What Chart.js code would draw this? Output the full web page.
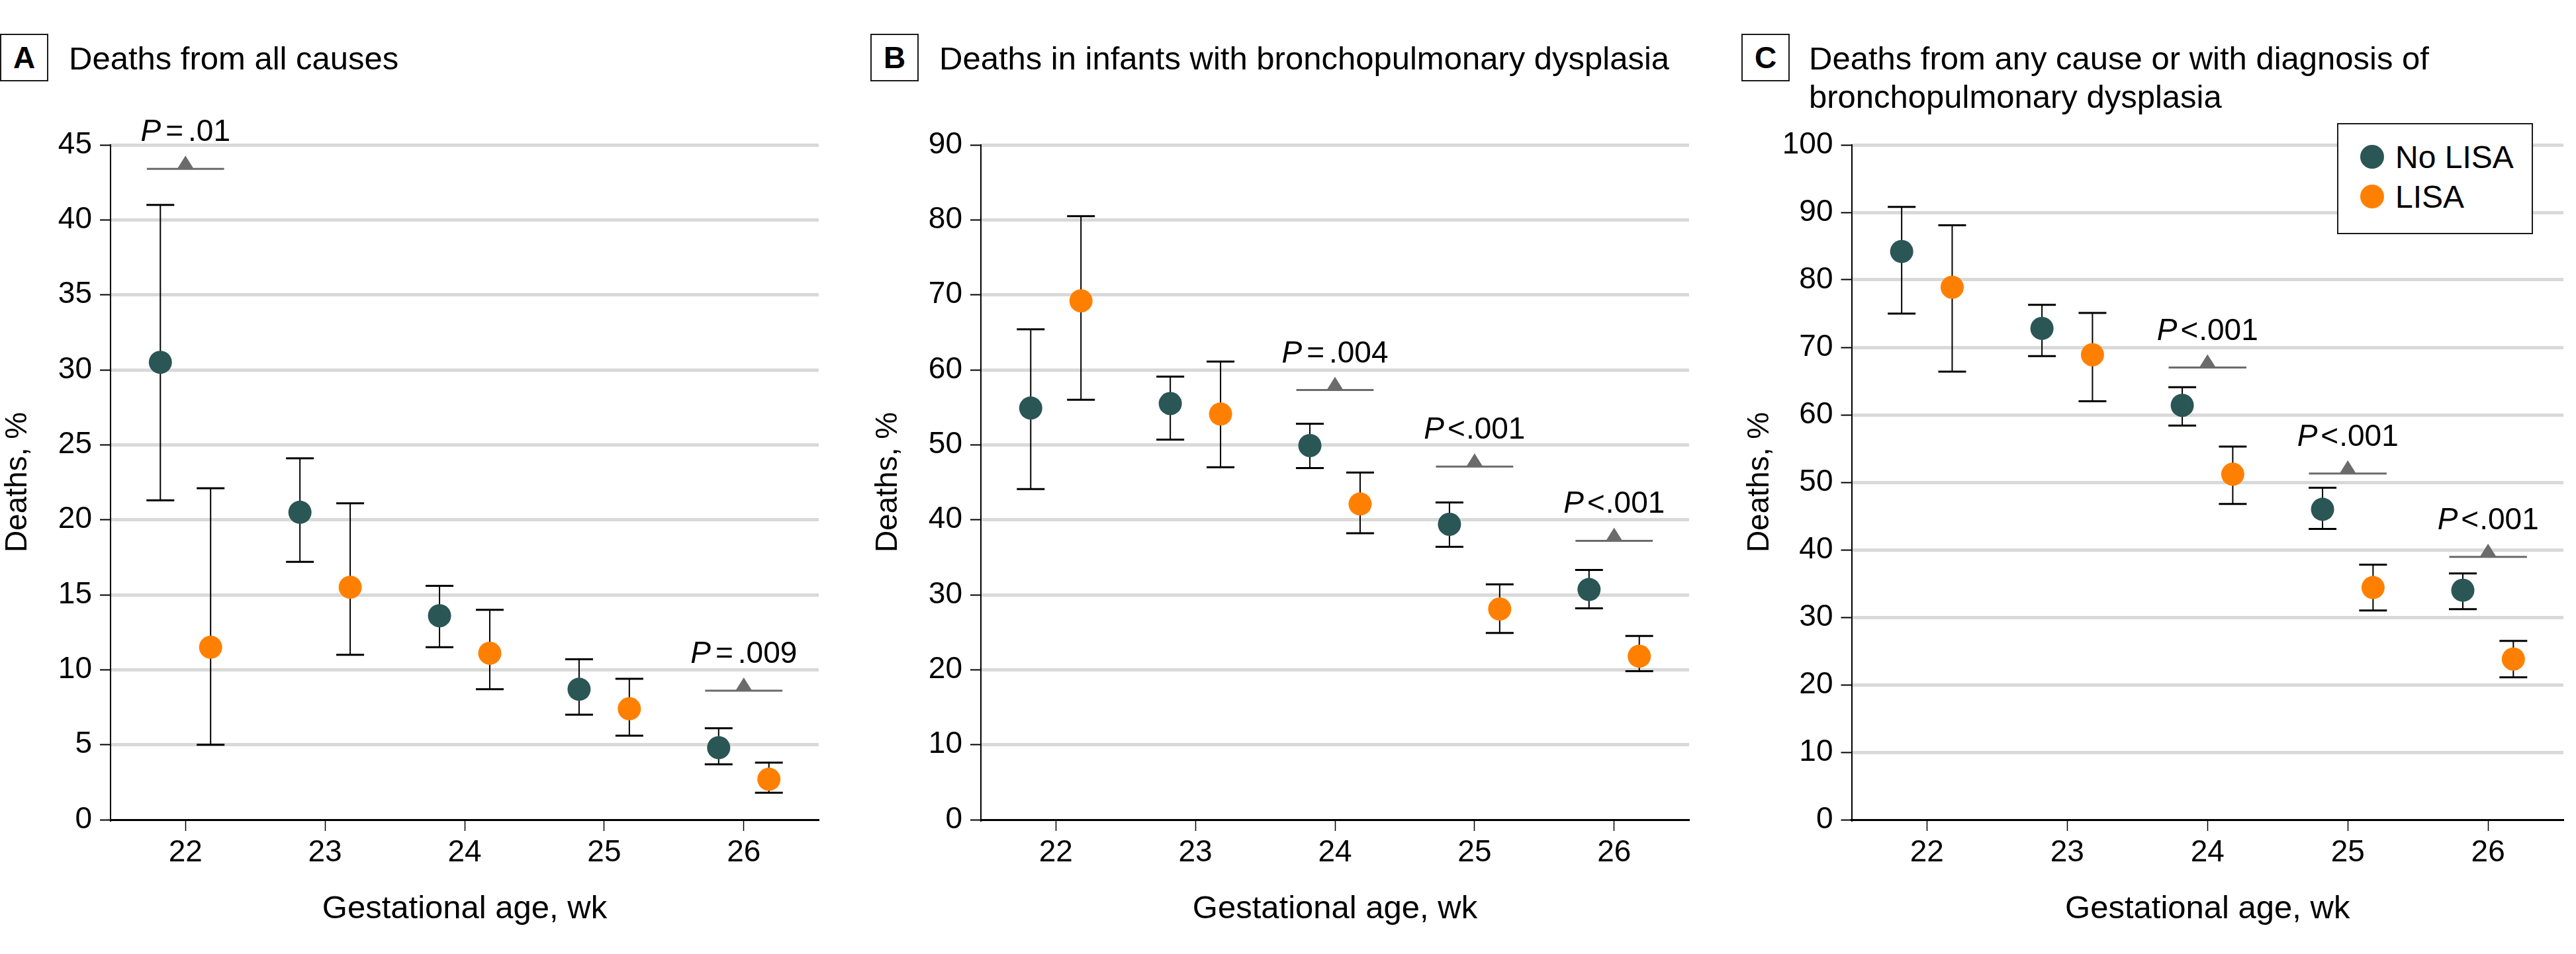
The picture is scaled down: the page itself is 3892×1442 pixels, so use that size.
<!DOCTYPE html>
<html>
<head>
<meta charset="utf-8">
<script src="https://cdn.jsdelivr.net/npm/chart.js@4.4.1/dist/chart.umd.min.js"></script>
<style>
html,body{margin:0;padding:0;background:#fff;}
body{width:3892px;height:1442px;position:relative;overflow:hidden;font-family:"Liberation Sans",Arial,sans-serif;color:#000;}
canvas{position:absolute;top:0;}
.box{position:absolute;top:51px;width:73px;height:72px;box-sizing:border-box;border:2.5px solid #1a1a1a;font-weight:bold;font-size:46px;display:flex;align-items:center;justify-content:center;line-height:1;}
.title{position:absolute;top:59px;font-size:49px;line-height:58px;white-space:nowrap;}
.legend{position:absolute;left:3531px;top:186px;width:296px;height:168px;box-sizing:border-box;border:2.5px solid #1a1a1a;background:#fff;}
.lg-item{position:absolute;left:0;height:60px;display:flex;align-items:center;font-size:48px;white-space:nowrap;}
.dot{width:36px;height:36px;border-radius:50%;margin-left:33px;margin-right:17px;}
</style>
</head>
<body>
<div class="box" style="left:0px;">A</div>
<div class="title" style="left:104px;">Deaths from all causes</div>
<div class="box" style="left:1315px;">B</div>
<div class="title" style="left:1419px;">Deaths in infants with bronchopulmonary dysplasia</div>
<div class="box" style="left:2631px;">C</div>
<div class="title" style="left:2733px;">Deaths from any cause or with diagnosis of<br>bronchopulmonary dysplasia</div>

<canvas id="chartA" width="1262" height="1442" style="left:0px;"></canvas>
<canvas id="chartB" width="1262" height="1442" style="left:1315px;"></canvas>
<canvas id="chartC" width="1260" height="1442" style="left:2632px;"></canvas>

<div class="legend">
  <div class="lg-item" style="top:19px;"><div class="dot" style="background:#2a5655;"></div><span>No LISA</span></div>
  <div class="lg-item" style="top:79px;"><div class="dot" style="background:#ff8000;"></div><span>LISA</span></div>
</div>

<script>
// ---------- data ----------
const weeks = [22, 23, 24, 25, 26];
const seriesNames = ['No LISA', 'LISA'];

const yTicksA = [0, 5, 10, 15, 20, 25, 30, 35, 40, 45];
const yTicksB = [0, 10, 20, 30, 40, 50, 60, 70, 80, 90];
const yTicksC = [0, 10, 20, 30, 40, 50, 60, 70, 80, 90, 100];

// Panel A: deaths from all causes
const noLisaA   = [30.5, 20.5, 13.6, 8.7, 4.8];
const noLisaALo = [21.3, 17.2, 11.5, 7.0, 3.7];
const noLisaAHi = [41.0, 24.1, 15.6, 10.7, 6.1];
const lisaA     = [11.5, 15.5, 11.1, 7.4, 2.7];
const lisaALo   = [5.0, 11.0, 8.7, 5.6, 1.8];
const lisaAHi   = [22.1, 21.1, 14.0, 9.4, 3.8];
const pWeeksA   = [22, 26];
const pLevelsA  = [43.4, 8.6];
const pTextsA   = ['= .01', '= .009'];

// Panel B: deaths in infants with BPD
const noLisaB   = [54.9, 55.5, 49.9, 39.4, 30.7];
const noLisaBLo = [44.1, 50.7, 46.9, 36.4, 28.2];
const noLisaBHi = [65.4, 59.1, 52.8, 42.3, 33.3];
const lisaB     = [69.2, 54.1, 42.1, 28.1, 21.8];
const lisaBLo   = [56.0, 47.0, 38.2, 24.9, 19.8];
const lisaBHi   = [80.5, 61.1, 46.3, 31.4, 24.5];
const pWeeksB   = [24, 25, 26];
const pLevelsB  = [57.3, 47.1, 37.2];
const pTextsB   = ['= .004', '<.001', '<.001'];

// Panel C: deaths or BPD
const noLisaC   = [84.2, 72.8, 61.4, 46.0, 34.0];
const noLisaCLo = [75.0, 68.7, 58.4, 43.1, 31.2];
const noLisaCHi = [90.8, 76.3, 64.1, 49.2, 36.5];
const lisaC     = [78.9, 68.9, 51.2, 34.4, 23.8];
const lisaCLo   = [66.4, 62.0, 46.8, 31.0, 21.1];
const lisaCHi   = [88.1, 75.1, 55.3, 37.8, 26.5];
const pWeeksC   = [24, 25, 26];
const pLevelsC  = [67.0, 51.3, 38.95];
const pTextsC   = ['<.001', '<.001', '<.001'];

// ---------- styling ----------
const TEAL = '#2a5655';
const ORANGE = '#ff8000';
const GREY = '#6b6b6b';
const OFFSET = 0.18;
const FONT = "'Liberation Sans', Arial, sans-serif";
Chart.defaults.font.family = FONT;
Chart.defaults.color = '#000';

const errorBars = {
  id: 'errorBars',
  beforeDatasetsDraw(chart) {
    const ctx = chart.ctx, y = chart.scales.y;
    ctx.save();
    ctx.strokeStyle = '#000';
    chart.data.datasets.forEach((ds, di) => {
      const meta = chart.getDatasetMeta(di);
      meta.data.forEach((pt, i) => {
        const x = pt.x;
        const yl = y.getPixelForValue(ds.lo[i]);
        const yh = y.getPixelForValue(ds.hi[i]);
        ctx.lineWidth = 2;
        ctx.beginPath(); ctx.moveTo(x, yl); ctx.lineTo(x, yh); ctx.stroke();
        ctx.lineWidth = 3;
        ctx.beginPath();
        ctx.moveTo(x - 21, yl); ctx.lineTo(x + 21, yl);
        ctx.moveTo(x - 21, yh); ctx.lineTo(x + 21, yh);
        ctx.stroke();
      });
    });
    ctx.restore();
  }
};

function pValues(pw, pl, pt) {
  return {
    id: 'pvals',
    afterDatasetsDraw(chart) {
      const ctx = chart.ctx, xs = chart.scales.x, ys = chart.scales.y;
      ctx.save();
      pw.forEach((w, i) => {
        const cx = xs.getPixelForValue(w);
        const half = xs.getPixelForValue(w + 0.277) - cx;
        const yl = ys.getPixelForValue(pl[i]);
        ctx.strokeStyle = GREY; ctx.fillStyle = GREY; ctx.lineWidth = 3;
        ctx.beginPath(); ctx.moveTo(cx - half, yl); ctx.lineTo(cx + half, yl); ctx.stroke();
        ctx.beginPath(); ctx.moveTo(cx - 12.5, yl); ctx.lineTo(cx + 12.5, yl); ctx.lineTo(cx, yl - 20); ctx.closePath(); ctx.fill();
        // text
        const txt = pt[i];
        const op = txt.charAt(0);
        const rest = txt.slice(1).trim();
        ctx.fillStyle = '#000';
        ctx.textBaseline = 'alphabetic';
        ctx.textAlign = 'left';
        ctx.font = 'italic 46px ' + FONT;
        const wP = ctx.measureText('P').width;
        ctx.font = '46px ' + FONT;
        const wOp = ctx.measureText(op).width;
        const wR = ctx.measureText(rest).width;
        const g1 = op === '=' ? 7 : 5, g2 = op === '=' ? 7 : 1;
        const total = wP + g1 + wOp + g2 + wR;
        let x0 = cx - total / 2;
        const by = yl - 42;
        ctx.font = 'italic 46px ' + FONT;
        ctx.fillText('P', x0, by);
        x0 += wP + g1;
        ctx.font = '46px ' + FONT;
        ctx.fillText(op, x0, by);
        x0 += wOp + g2;
        ctx.fillText(rest, x0, by);
      });
      ctx.restore();
    }
  };
}

function makeChart(id, d) {
  return new Chart(document.getElementById(id), {
    type: 'scatter',
    data: {
      datasets: [
        { label: seriesNames[0], data: weeks.map((w, i) => ({ x: w - OFFSET, y: d.no[i] })), lo: d.noLo, hi: d.noHi,
          backgroundColor: TEAL, borderWidth: 0, pointRadius: 17.5, pointHoverRadius: 17.5 },
        { label: seriesNames[1], data: weeks.map((w, i) => ({ x: w + OFFSET, y: d.li[i] })), lo: d.liLo, hi: d.liHi,
          backgroundColor: ORANGE, borderWidth: 0, pointRadius: 17.5, pointHoverRadius: 17.5 }
      ]
    },
    options: {
      responsive: false,
      animation: false,
      events: [],
      layout: { padding: { top: 219, right: d.padRight, bottom: 0, left: 0 } },
      plugins: { legend: { display: false }, tooltip: { enabled: false }, title: { display: false } },
      scales: {
        x: {
          type: 'linear', min: 21.463, max: 26.537,
          afterBuildTicks: s => { s.ticks = weeks.map(v => ({ value: v })); },
          afterFit: s => { s.height = 203; },
          grid: { drawOnChartArea: false, drawTicks: true, tickLength: 17, tickColor: '#000', tickWidth: 1.5 },
          border: { display: true, color: '#000', width: 3 },
          ticks: { padding: 6, color: '#000', font: { size: 46 }, callback: v => String(v) },
          title: { display: true, text: 'Gestational age, wk', color: '#000', font: { size: 49 }, padding: { top: 0, bottom: 38 } }
        },
        y: {
          min: 0, max: d.yTicks[d.yTicks.length - 1],
          afterBuildTicks: s => { s.ticks = d.yTicks.map(v => ({ value: v })); },
          afterFit: s => { s.width = d.yWidth; },
          grid: {
            color: c => (c.tick && c.tick.value === 0) ? 'rgba(0,0,0,0)' : '#d9d9d9',
            lineWidth: 5, tickColor: '#000', tickWidth: 2, tickLength: 16
          },
          border: { display: true, color: '#000', width: 2 },
          ticks: { padding: 12, color: '#000', font: { size: 46 } },
          title: { display: true, text: 'Deaths, %', color: '#000', font: { size: 46 }, padding: { top: 0, bottom: 0 } }
        }
      }
    },
    plugins: [errorBars, pValues(d.pw, d.pl, d.pt)]
  });
}

makeChart('chartA', { no: noLisaA, noLo: noLisaALo, noHi: noLisaAHi, li: lisaA, liLo: lisaALo, liHi: lisaAHi,
  yTicks: yTicksA, yWidth: 167, padRight: 25, pw: pWeeksA, pl: pLevelsA, pt: pTextsA });
makeChart('chartB', { no: noLisaB, noLo: noLisaBLo, noHi: noLisaBHi, li: lisaB, liLo: lisaBLo, liHi: lisaBHi,
  yTicks: yTicksB, yWidth: 167, padRight: 25, pw: pWeeksB, pl: pLevelsB, pt: pTextsB });
makeChart('chartC', { no: noLisaC, noLo: noLisaCLo, noHi: noLisaCHi, li: lisaC, liLo: lisaCLo, liHi: lisaCHi,
  yTicks: yTicksC, yWidth: 165.5, padRight: 19, pw: pWeeksC, pl: pLevelsC, pt: pTextsC });
</script>
</body>
</html>
